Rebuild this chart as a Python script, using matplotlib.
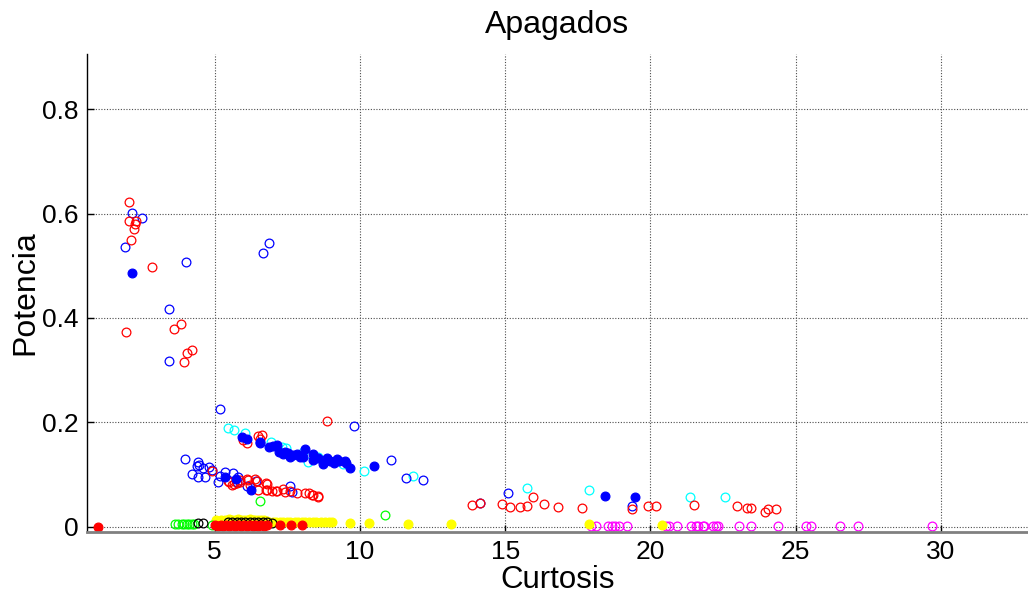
import matplotlib
matplotlib.use("Agg")
import matplotlib.pyplot as plt

plt.rcParams["font.family"] = ["Liberation Sans", "DejaVu Sans"]

# curtosis / potencia pairs, one list pair per marker series
red_open_x = [2.05, 2.05, 2.29, 2.25, 2.22, 2.13, 2.83, 1.95, 3.85, 3.59, 4.22, 4.04, 3.95,
              8.86, 5.96, 6.10, 6.50, 6.62, 6.55,
              4.92, 5.50, 5.66, 5.78, 5.87, 6.10, 6.22, 6.39, 6.50, 6.77, 6.81, 6.96, 7.16,
              7.34, 7.42, 7.82, 8.11, 8.26, 8.40, 8.57, 5.47, 5.59, 5.87, 6.16, 6.45, 6.79,
              6.77, 7.11, 7.59, 8.34, 8.55,
              13.84, 14.13, 14.90, 15.18, 15.51, 15.76, 15.95, 16.33, 16.82, 17.65, 19.35,
              19.90, 20.19, 21.50, 22.97, 23.32, 23.47, 23.93, 24.04, 24.32]
red_open_y = [0.622, 0.585, 0.585, 0.580, 0.570, 0.549, 0.497, 0.373, 0.388, 0.378, 0.339, 0.333, 0.315,
              0.202, 0.167, 0.160, 0.173, 0.176, 0.168,
              0.107, 0.086, 0.082, 0.084, 0.090, 0.091, 0.080, 0.091, 0.070, 0.084, 0.070, 0.069, 0.069,
              0.072, 0.067, 0.065, 0.065, 0.065, 0.061, 0.056, 0.087, 0.080, 0.085, 0.090, 0.088, 0.081,
              0.070, 0.068, 0.068, 0.061, 0.058,
              0.042, 0.045, 0.043, 0.038, 0.038, 0.039, 0.057, 0.043, 0.038, 0.036, 0.033,
              0.040, 0.040, 0.042, 0.039, 0.036, 0.036, 0.028, 0.034, 0.034]

blue_open_x = [2.16, 2.51, 1.91, 4.01, 6.88, 6.66, 3.42, 3.42,
               5.17, 9.81,
               3.98, 4.41, 4.47, 4.38, 4.61, 4.81, 4.90, 4.21, 4.41, 4.68, 5.10, 5.18, 5.35,
               5.64, 5.81, 5.78, 6.10, 6.42, 7.59, 7.65,
               11.08, 11.60, 12.16, 14.12, 15.08, 19.36]
blue_open_y = [0.602, 0.592, 0.537, 0.508, 0.543, 0.525, 0.417, 0.318,
               0.226, 0.193,
               0.130, 0.124, 0.118, 0.116, 0.112, 0.115, 0.109, 0.100, 0.096, 0.095, 0.086, 0.097, 0.104,
               0.102, 0.096, 0.086, 0.077, 0.088, 0.077, 0.067,
               0.127, 0.093, 0.090, 0.045, 0.065, 0.040]

blue_fill_x = [2.16, 5.93, 6.10, 6.57, 6.56,
               6.88, 7.02, 7.16, 7.22, 7.42, 7.36, 7.53, 7.59, 7.71, 7.82, 7.94, 8.11, 8.05,
               8.37, 8.40, 8.57, 8.71, 8.88, 8.97, 9.11, 9.20, 9.28, 9.49, 9.51, 9.67, 10.49,
               6.25, 5.35, 5.73, 18.42, 19.47]
blue_fill_y = [0.486, 0.172, 0.168, 0.162, 0.161,
               0.152, 0.155, 0.157, 0.144, 0.143, 0.139, 0.141, 0.134, 0.137, 0.139, 0.133, 0.149, 0.134,
               0.139, 0.128, 0.131, 0.120, 0.131, 0.126, 0.122, 0.130, 0.125, 0.126, 0.122, 0.112, 0.116,
               0.070, 0.095, 0.091, 0.059, 0.057]

cyan_x = [5.47, 5.68, 6.04, 6.93, 7.31, 7.44, 8.05, 8.20, 8.57, 8.91, 9.43, 10.14,
          11.84, 15.75, 17.88, 21.36, 22.58]
cyan_y = [0.190, 0.186, 0.180, 0.162, 0.153, 0.151, 0.144, 0.124, 0.134, 0.128, 0.120, 0.106,
          0.097, 0.075, 0.070, 0.056, 0.056]

magenta_x = [17.96, 18.12, 18.55, 18.67, 18.78, 18.92, 19.21, 20.54, 20.64, 20.93,
             21.39, 21.56, 21.63, 21.80, 21.86, 22.15, 22.26, 22.32, 23.06, 23.47, 24.39,
             25.36, 25.52, 26.53, 27.13, 29.71]
magenta_y = [0.001] * len(magenta_x)

yellow_x = [5.05, 5.2, 5.35, 5.5, 5.6, 5.7, 5.8, 5.9, 6.0, 6.1, 6.2, 6.3, 6.4, 6.5, 6.6,
            6.7, 6.8, 7.0, 7.1, 7.25, 7.35, 7.5, 7.6, 7.75, 7.85, 8.0, 8.1, 8.25, 8.4, 8.5,
            8.65, 8.8, 8.95, 9.05, 9.66, 10.31, 11.67, 13.13, 17.88, 20.39]
yellow_y = [0.012, 0.013, 0.012, 0.014, 0.013, 0.012, 0.014, 0.013, 0.012, 0.013, 0.014, 0.012,
            0.013, 0.012, 0.013, 0.012, 0.011, 0.008, 0.009, 0.008, 0.009, 0.008, 0.009, 0.008,
            0.008, 0.009, 0.008, 0.008, 0.009, 0.008, 0.008, 0.008, 0.008, 0.008, 0.006, 0.006,
            0.005, 0.005, 0.005, 0.003]

green_x = [3.63, 3.75, 3.86, 3.95, 4.04, 4.12, 4.21, 4.30, 4.90, 6.56, 10.85]
green_y = [0.005, 0.005, 0.005, 0.005, 0.005, 0.005, 0.005, 0.005, 0.004, 0.049, 0.022]

black_x = [4.44, 4.61, 5.45, 5.6, 5.75, 5.9, 6.05, 6.2, 6.35, 6.5, 6.65, 6.8, 6.96]
black_y = [0.006, 0.006, 0.008, 0.008, 0.008, 0.008, 0.008, 0.008, 0.008, 0.008, 0.008, 0.008, 0.007]

red_fill_x = [0.99, 5.0, 5.1, 5.2, 5.3, 5.4, 5.5, 5.6, 5.7, 5.8, 5.9, 6.0, 6.1, 6.2, 6.3,
              6.4, 6.5, 6.6, 6.7, 6.8, 7.25, 7.62, 8.0]
red_fill_y = [0.0, 0.003, 0.002, 0.003, 0.002, 0.003, 0.002, 0.003, 0.002, 0.003, 0.002, 0.003,
              0.002, 0.003, 0.002, 0.003, 0.002, 0.003, 0.002, 0.003, 0.003, 0.003, 0.003]

fig = plt.figure(figsize=(10.28, 5.94), dpi=100)
ax = fig.add_axes((0.0843, 0.105, 0.9157, 0.804))

ms = 6.3
mew = 0.9
series = [
    (magenta_x, magenta_y, (1, 0, 1), False),
    (cyan_x, cyan_y, (0, 1, 1), False),
    (blue_open_x, blue_open_y, (0, 0, 1), False),
    (red_open_x, red_open_y, (1, 0, 0), False),
    (blue_fill_x, blue_fill_y, (0, 0, 1), True),
    (yellow_x, yellow_y, (1, 1, 0), True),
    (green_x, green_y, (0, 1, 0), False),
    (black_x, black_y, (0, 0, 0), False),
    (red_fill_x, red_fill_y, (1, 0, 0), True),
]
for xs, ys, col, filled in series:
    ax.plot(xs, ys, "o", linestyle="none", markersize=ms, markeredgewidth=mew,
            markeredgecolor=col, markerfacecolor=col if filled else "none", clip_on=False)

ax.set_xlim(0.59, 33.0)
ax.set_ylim(-0.0096, 0.906)
ax.set_xticks([5, 10, 15, 20, 25, 30])
ax.set_yticks([0, 0.2, 0.4, 0.6, 0.8])
ax.set_yticklabels(["0", "0.2", "0.4", "0.6", "0.8"])

ax.grid(True, linestyle=(0, (1, 1.5)), color="0.3", linewidth=0.8)
ax.set_axisbelow(True)
ax.spines["top"].set_visible(False)
ax.spines["right"].set_visible(False)
ax.spines["left"].set_color("black")
ax.spines["left"].set_linewidth(1.0)
ax.spines["bottom"].set_color("0.5")
ax.spines["bottom"].set_linewidth(2.0)
ax.tick_params(direction="in", length=5, width=1, labelsize=19, pad=6, colors="black")

ax.set_title("Apagados", fontsize=23, pad=15)
ax.set_xlabel("Curtosis", fontsize=22.5, labelpad=1)
ax.set_ylabel("Potencia", fontsize=23, labelpad=1)

fig.savefig("out.png", dpi=100)
